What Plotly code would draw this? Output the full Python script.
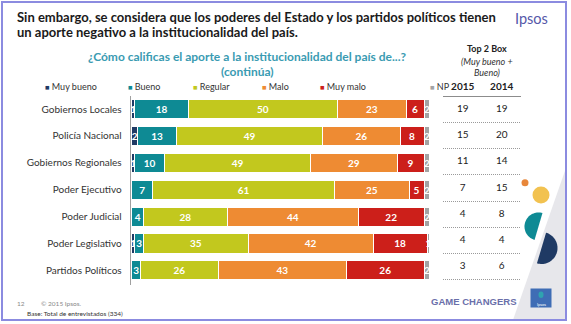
import numpy as np
import plotly.graph_objects as go

W, H = 571, 324

# ---- data -------------------------------------------------------------
categories = ["Gobiernos Locales", "Policía Nacional", "Gobiernos Regionales",
              "Poder Ejecutivo", "Poder Judicial", "Poder Legislativo",
              "Partidos Políticos"]
series_names = ["Muy bueno", "Bueno", "Regular", "Malo", "Muy malo", "NP"]
muy_bueno = [1, 2, 1, 0, 0, 1, 0]
bueno = [18, 13, 10, 7, 4, 3, 3]
regular = [50, 49, 49, 61, 28, 35, 26]
malo = [23, 26, 29, 25, 44, 42, 43]
muy_malo = [6, 8, 9, 5, 22, 18, 26]
np_vals = [2, 2, 2, 2, 2, 1, 2]
top2_2015 = [19, 15, 11, 7, 4, 4, 3]
top2_2014 = [19, 20, 14, 15, 8, 4, 6]
years = ["2015", "2014"]

series_values = [muy_bueno, bueno, regular, malo, muy_malo, np_vals]
colors = ["#1F3A64", "#0E8A94", "#C2C81E", "#EE8B33", "#CC1F1A", "#A3A3A3"]

FONT = "Lato"


def px(x):
    return x / W


def py(y):
    return 1 - y / H


fig = go.Figure()

# ---- stacked bars -----------------------------------------------------
for name, vals, col in zip(series_names, series_values, colors):
    fig.add_trace(go.Bar(
        y=categories, x=vals, name=name, orientation="h",
        marker=dict(color=col, line=dict(color="white", width=1)),
        text=[str(v) if v > 0 else "" for v in vals],
        textposition="inside", insidetextanchor="middle",
        textfont=dict(family=FONT, size=10, color="white", weight="bold"),
        hoverinfo="skip", showlegend=False,
        xaxis="x", yaxis="y",
    ))

# ---- Top 2 Box table ----------------------------------------------------
for yr, vals in zip(years, [top2_2015, top2_2014]):
    fig.add_trace(go.Scatter(
        x=[yr] * len(categories), y=categories, mode="text",
        text=[str(v) for v in vals],
        textfont=dict(family=FONT, size=10, color="#222"),
        hoverinfo="skip", showlegend=False,
        xaxis="x2", yaxis="y2",
    ))

n = len(categories)
TABLE_TOP, TABLE_BOTTOM = 96.5, 279.5
row_h = (TABLE_BOTTOM - TABLE_TOP) / n

fig.update_layout(
    width=W, height=H,
    margin=dict(l=0, r=0, t=0, b=0),
    paper_bgcolor="white", plot_bgcolor="rgba(0,0,0,0)",
    barmode="stack", bargap=0.29,
    uniformtext=dict(mode="show", minsize=10),
    xaxis=dict(domain=[px(131.7), px(430)], range=[0, 100], visible=False,
               fixedrange=True),
    yaxis=dict(domain=[py(283.8), py(95.6)], autorange="reversed",
               showline=False, ticks="", ticklabelstandoff=9,
               tickfont=dict(family=FONT, size=10, color="#333"),
               showgrid=False, zeroline=False),
    xaxis2=dict(domain=[px(443.2), px(521.2)], anchor="y2", side="top",
                type="category", categoryorder="array", categoryarray=years,
                range=[-0.5, 1.5],
                showline=False, ticks="", ticklabelstandoff=4,
                tickfont=dict(family=FONT, size=10, color="#222", weight="bold"),
                showgrid=False, zeroline=False),
    yaxis2=dict(domain=[py(TABLE_BOTTOM), py(TABLE_TOP)], anchor="x2",
                type="category", categoryorder="array", categoryarray=categories,
                range=[n - 0.5, -0.5], showticklabels=False, ticks="",
                showgrid=False, zeroline=False),
)

# ---- decorations ----------------------------------------------------------
shapes = []
# grey corner triangle
shapes.append(dict(type="path", xref="paper", yref="paper", layer="below",
                   path=f"M {px(513)} {py(320)} L {px(567)} {py(165)} L {px(567)} {py(320)} Z",
                   fillcolor="#E7E7EB", line=dict(width=0)))


def block(x0, y0, x1, y1, color):
    """Filled rectangle given in page pixels."""
    return dict(type="rect", xref="paper", yref="paper", layer="above",
                x0=px(x0), x1=px(x1), y0=py(y1), y1=py(y0),
                fillcolor=color, line=dict(width=0))


RULE = "#8c8c8c"
# header rule under the year labels
top = np.floor(TABLE_TOP)
shapes.append(block(443, top, 521, top + 1, RULE))
# dotted separators below each table row
for i in range(1, n + 1):
    yy = np.floor(TABLE_TOP + i * row_h)
    for xx in range(443, 521, 2):
        shapes.append(block(xx, yy, xx + 1, yy + 1, "#9a9a9a"))
# category axis line
shapes.append(block(130, 96, 131, 285, "#a0a0a0"))


def disk(cx, cy, r, color):
    return dict(type="circle", xref="paper", yref="paper",
                x0=px(cx - r), x1=px(cx + r), y0=py(cy + r), y1=py(cy - r),
                fillcolor=color, line=dict(width=0))


def half_disk(cx, cy, r, start, end, color):
    t = np.linspace(start, end, 40)
    xs = cx + r * np.cos(t)
    ys = cy + r * np.sin(t)
    path = "M " + " L ".join(f"{px(a):.5f} {py(b):.5f}" for a, b in zip(xs, ys)) + " Z"
    return dict(type="path", xref="paper", yref="paper", path=path,
                fillcolor=color, line=dict(width=0))


shapes.append(disk(525, 182.7, 3.5, "#E8873A"))
shapes.append(disk(541, 195, 8.5, "#F2C250"))
ang = np.arctan2(54, -16)  # direction of the cut line
shapes.append(half_disk(538.5, 226.5, 14, ang, ang + np.pi, "#0E8A94"))
shapes.append(half_disk(541.5, 248, 16, ang - np.pi, ang, "#1F3A64"))
# Ipsos badge
shapes.append(dict(type="rect", xref="paper", yref="paper",
                   x0=px(530.5), x1=px(551.5), y0=py(307.5), y1=py(288.5),
                   fillcolor="#3F6DB5", line=dict(width=0)))
shapes.append(dict(type="circle", xref="paper", yref="paper",
                   x0=px(538.5), x1=px(543.5), y0=py(298), y1=py(291.5),
                   fillcolor="#2FA3B0", line=dict(width=0)))
# slide frame
shapes.append(dict(type="rect", xref="paper", yref="paper",
                   x0=px(2), x1=px(566), y0=py(320), y1=py(2),
                   line=dict(color="#8B8BE0", width=2)))
fig.update_layout(shapes=shapes)

# ---- text -----------------------------------------------------------------
ann = []


def text(x, y, s, size, color, weight="normal", xanchor="left", style="normal",
         family=FONT):
    ann.append(dict(xref="paper", yref="paper", x=px(x), y=py(y), text=s,
                    showarrow=False, xanchor=xanchor, yanchor="middle",
                    font=dict(family=family, size=size, color=color,
                              weight=weight, style=style)))


text(15, 16.7, "Sin embargo, se considera que los poderes del Estado y los partidos políticos tienen",
     13, "#1a1a1a", "bold")
text(15, 31.7, "un aporte negativo a la institucionalidad del país.", 13, "#1a1a1a", "bold")
text(531, 18, "Ipsos", 14.5, "#5557A8", xanchor="center")
text(247, 56.7, "¿Cómo calificas el aporte a la institucionalidad del país de...?",
     12, "#3A9BB2", "bold", xanchor="center")
text(247, 71.5, "(continúa)", 12, "#3A9BB2", "bold", xanchor="center")

legend_x = [43, 126, 191, 260, 318, 428]
for lx, name, col in zip(legend_x, series_names, colors):
    text(lx, 86.7, f'<span style="color:{col};font-size:7.5px">■</span> {name}',
         9, "#333")

text(487, 48, "Top 2 Box", 9, "#222", "bold", xanchor="center")
text(487, 61.5, "(Muy bueno +", 9, "#333", style="italic", xanchor="center")
text(487, 72, "Bueno)", 9, "#333", style="italic", xanchor="center")

text(15, 303.3, "12", 6.5, "#888")
text(39, 303.3, "© 2015 Ipsos.", 6.5, "#888")
text(25, 313.3, "Base: Total de entrevistados (334)", 6.5, "#333")
text(474, 301.7, "GAME CHANGERS", 9.5, "#6A6FAA", "bold", xanchor="center",
     family="Liberation Sans")
text(541, 304.5, "Ipsos", 4, "white", xanchor="center")

fig.update_layout(annotations=ann)

fig.write_html("out.html")
